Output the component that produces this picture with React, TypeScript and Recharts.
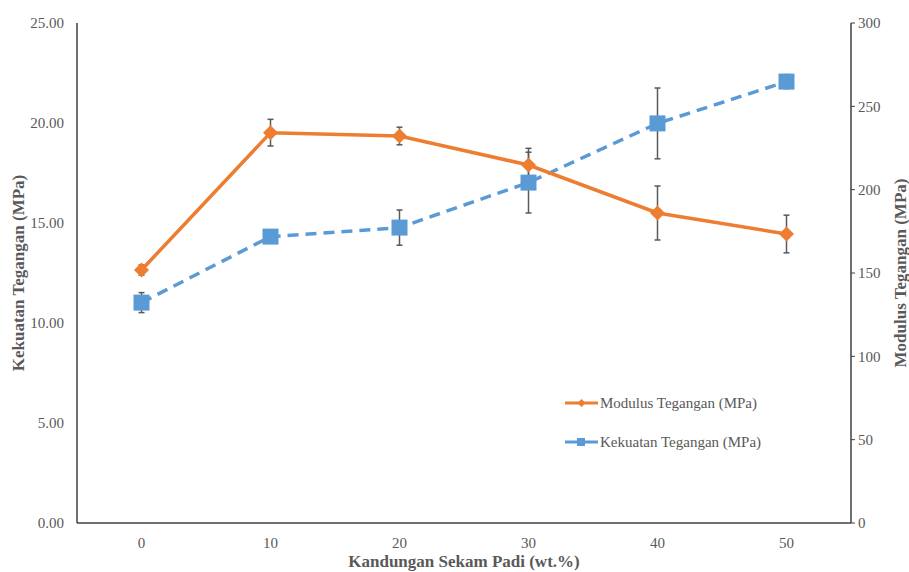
import { LineChart, Line, XAxis, YAxis, ErrorBar, Legend, Label } from 'recharts';

// Rice husk content (wt.%)
const kandungan = [0, 10, 20, 30, 40, 50];

// Tensile strength (MPa), left axis
const kekuatan = [11.02, 14.32, 14.77, 17.02, 19.98, 22.07];
const kekuatanErr = [0.5, 0.3, 0.88, 1.52, 1.77, 0.35];

// Tensile modulus (MPa), right axis
const modulus = [151.8, 234.2, 232.2, 214.8, 186.0, 173.4];
const modulusErr = [3, 8, 5.3, 10, 16.2, 11.3];

const leftTicks = [0, 5, 10, 15, 20, 25];
const rightTicks = [0, 50, 100, 150, 200, 250, 300];

const ORANGE = '#ED7D31';
const BLUE = '#5B9BD5';
const GREY = '#595959';
const AXIS = '#404040';
const SERIF = 'Liberation Serif';

const data = kandungan.map((x, i) => ({
  x,
  kekuatan: kekuatan[i],
  kekuatanErr: kekuatanErr[i],
  modulus: modulus[i],
  modulusErr: modulusErr[i],
}));

const tickStyle = { fill: GREY, fontSize: 15, fontFamily: SERIF };
const titleStyle = { fill: GREY, fontSize: 17, fontWeight: 700, fontFamily: SERIF, textAnchor: 'middle' as const };

function DiamondDot(props: any) {
  const { cx, cy, index } = props;
  const r = 7.5;
  return (
    <path
      key={`d-${index}`}
      d={`M${cx},${cy - r} L${cx + r},${cy} L${cx},${cy + r} L${cx - r},${cy} Z`}
      fill={ORANGE}
    />
  );
}

function SquareDot(props: any) {
  const { cx, cy, index } = props;
  const s = 8;
  return <rect key={`s-${index}`} x={cx - s} y={cy - s} width={s * 2} height={s * 2} fill={BLUE} />;
}

function LegendBox() {
  return (
    <svg width={230} height={70} style={{ overflow: 'visible', fontFamily: SERIF }}>
      <g>
        <line x1={5} y1={13} x2={38} y2={13} stroke={ORANGE} strokeWidth={3} />
        <path d="M21.5,9 L25.5,13 L21.5,17 L17.5,13 Z" fill={ORANGE} />
        <text x={40} y={13} dy="0.35em" fontSize={15} fontFamily={SERIF} fill={GREY}>
          Modulus Tegangan (MPa)
        </text>
      </g>
      <g>
        <line x1={5} y1={52} x2={38} y2={52} stroke={BLUE} strokeWidth={3} strokeDasharray="14 5" />
        <rect x={17} y={48} width={8} height={8} fill={BLUE} />
        <text x={40} y={52} dy="0.35em" fontSize={15} fontFamily={SERIF} fill={GREY}>
          Kekuatan Tegangan (MPa)
        </text>
      </g>
    </svg>
  );
}

export default function App() {
  return (
    <div style={{ position: 'absolute', left: 0, top: 0, background: '#fff', fontFamily: SERIF }}>
      <LineChart width={909} height={572} data={data} margin={{ top: 23, right: 0, bottom: 0, left: 0 }}>
        <XAxis
          dataKey="x"
          type="category"
          padding={{ left: 64.5, right: 64.5 }}
          tickLine={false}
          tickMargin={8}
          axisLine={{ stroke: AXIS, strokeWidth: 1.5 }}
          tick={tickStyle}
          height={49}
        >
          <Label value="Kandungan Sekam Padi (wt.%)" position="insideBottom" offset={5} style={titleStyle} />
        </XAxis>
        <YAxis
          yAxisId="left"
          orientation="left"
          domain={[0, 25]}
          ticks={leftTicks}
          tickFormatter={(v: number) => v.toFixed(2)}
          tickLine={false}
          tickMargin={7}
          axisLine={{ stroke: AXIS, strokeWidth: 1.5 }}
          tick={tickStyle}
          width={77}
        >
          <Label value="Kekuatan Tegangan (MPa)" position="insideLeft" angle={-90} offset={18} style={titleStyle} />
        </YAxis>
        <YAxis
          yAxisId="right"
          orientation="right"
          domain={[0, 300]}
          ticks={rightTicks}
          tickSize={4}
          tickMargin={3}
          tickLine={{ stroke: AXIS }}
          axisLine={{ stroke: AXIS, strokeWidth: 1.5 }}
          tick={tickStyle}
          width={58}
        >
          <Label value="Modulus Tegangan (MPa)" position="insideRight" angle={-90} offset={9} style={titleStyle} />
        </YAxis>
        <Line
          yAxisId="left"
          dataKey="kekuatan"
          name="Kekuatan Tegangan (MPa)"
          stroke={BLUE}
          strokeWidth={3.5}
          strokeDasharray="11 7"
          dot={SquareDot}
          activeDot={false}
          isAnimationActive={false}
        >
          <ErrorBar dataKey="kekuatanErr" direction="y" width={3} stroke={GREY} strokeWidth={1.5} />
        </Line>
        <Line
          yAxisId="right"
          dataKey="modulus"
          name="Modulus Tegangan (MPa)"
          stroke={ORANGE}
          strokeWidth={3.5}
          dot={DiamondDot}
          activeDot={false}
          isAnimationActive={false}
        >
          <ErrorBar dataKey="modulusErr" direction="y" width={3} stroke={GREY} strokeWidth={1.5} />
        </Line>
        <Legend
          layout="vertical"
          align="center"
          verticalAlign="middle"
          content={LegendBox}
          wrapperStyle={{ position: 'absolute', left: 560, top: 390, width: 230, height: 70 }}
        />
      </LineChart>
    </div>
  );
}
